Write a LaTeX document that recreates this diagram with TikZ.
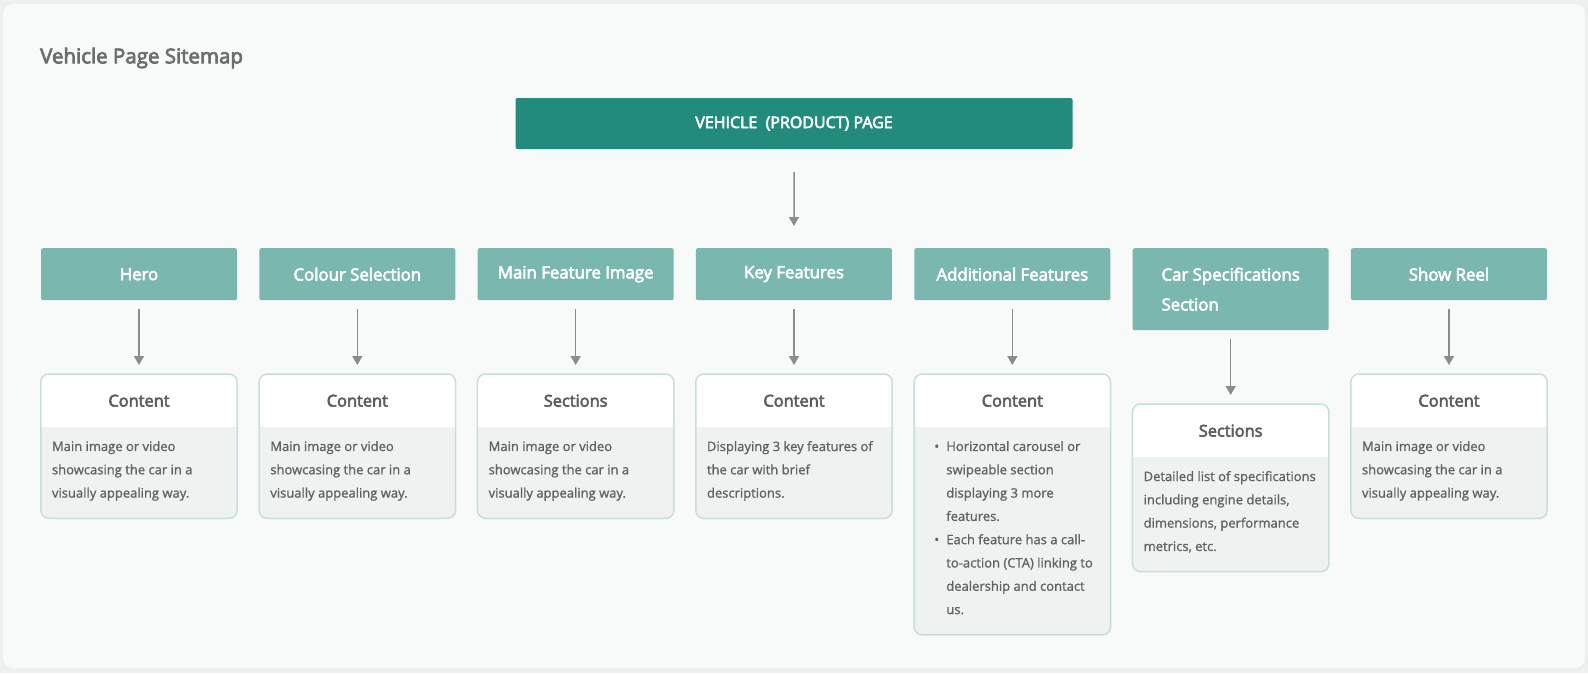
\documentclass[tikz,border=0pt]{standalone}
\usepackage{fontspec}
\setmainfont{Open Sans}[FakeBold=1.2]
\newfontfamily\semib{Open Sans}[FakeBold=3.5]
\usetikzlibrary{positioning,arrows.meta,backgrounds}

\definecolor{outergray}{HTML}{EEF0EF}
\definecolor{panelgray}{HTML}{F8F9F9}
\definecolor{titlegray}{HTML}{6B6F6E}
\definecolor{pageteal}{HTML}{228B7C}
\definecolor{sectionteal}{HTML}{7AB7AE}
\definecolor{cardgray}{HTML}{EEF2F1}
\definecolor{cardline}{HTML}{C8DEDB}
\definecolor{headgray}{HTML}{5A5E5D}
\definecolor{bodygray}{HTML}{5F6362}
\definecolor{arrowgray}{HTML}{8C8C8C}

\newcommand\itembul{\hspace*{9pt}\makebox[12pt][l]{\textbullet}}
\newcommand\itemind{\hspace*{21pt}}
\newcommand\mainimgtext{Main image or video\\showcasing the car in a\\visually appealing way.}
\newcommand\keyfeattext{Displaying 3 key features of\\the car with brief\\descriptions.}
\newcommand\addfeattext{\itembul Horizontal carousel or\\\itemind swipeable section\\\itemind displaying 3 more\\\itemind features.\\\itembul Each feature has a call-\\\itemind to-action (CTA) linking to\\\itemind dealership and contact\\\itemind us.}
\newcommand\spectext{Detailed list of specifications\\including engine details,\\dimensions, performance\\metrics, etc.}

\begin{document}
\begin{tikzpicture}[x=1pt, y=-1pt, >={Triangle[width=10pt,length=9pt]},
  page/.style={fill=pageteal, text=white, minimum width=557pt, minimum height=51pt,
    rounded corners=2pt, font=\semib\fontsize{16}{19}\selectfont},
  every section/.style={anchor=north, fill=sectionteal, text=white, minimum width=196pt,
    minimum height=52pt, rounded corners=2pt, align=center,
    font=\semib\fontsize{16.8}{30}\selectfont},
  section 6/.style={minimum height=82pt, align=left},
  card head/.style={anchor=north, minimum width=196pt, minimum height=53pt, inner sep=0pt,
    text=headgray, font=\semib\fontsize{16.4}{20}\selectfont},
  card text/.style={anchor=north west, align=left, inner xsep=11pt, inner ysep=13.5pt,
    text=bodygray, font=\fontsize{13}{23.3}\selectfont,
    execute at begin node={\rule{0pt}{17pt}}, execute at end node=\strut},
  link/.style={->, draw=arrowgray, line width=1.5pt, shorten <=9pt, shorten >=9pt}]
\useasboundingbox (0,0) rectangle (1588,673);

% Draw the panel
\begin{scope}[on background layer]
  \fill[outergray] (0,0) rectangle (1588,673);
  \fill[panelgray, rounded corners=10pt] (3,4) rectangle (1585,668);
\end{scope}

% Title
\node[anchor=west, inner sep=0pt, text=titlegray, font=\semib\fontsize{20.5}{24}\selectfont]
  (title) at (40,58) {Vehicle Page Sitemap};

% Draw page node
\node[page] (page) at (794,123.5) {VEHICLE\ \ (PRODUCT) PAGE};

% Draw section nodes
\foreach \l [count=\i] in {Hero, Colour Selection, Main Feature Image, Key Features,
    Additional Features, {Car Specifications\\Section}, Show Reel}
  \node [every section/.try, section \i/.try] (section-\i) at ({139+218.33*(\i-1)},248) {\l};

% Draw card headers
\foreach \h/\y [count=\i] in {Content/374, Content/374, Sections/374, Content/374,
    Content/374, Sections/404, Content/374}
  \node [card head] (head-\i) at ({139+218.33*(\i-1)},\y) {\h};

% Draw card texts
\foreach \txt [count=\i] in {\mainimgtext, \mainimgtext, \mainimgtext, \keyfeattext,
    \addfeattext, \spectext, \mainimgtext}
  \node [card text] (body-\i) at (head-\i.south west) {\txt};

% Shade and frame the cards
\begin{scope}[on background layer]
\foreach \i in {1,...,7} {
  \begin{scope}
    \clip[rounded corners=8pt] (head-\i.north west) rectangle (head-\i.east |- body-\i.south);
    \fill[cardgray] (head-\i.north west) rectangle (head-\i.east |- body-\i.south);
    \fill[white] (head-\i.north west) rectangle (head-\i.south east);
  \end{scope}
  \draw[cardline, line width=1.5pt, rounded corners=8pt]
    (head-\i.north west) rectangle (head-\i.east |- body-\i.south);
}
\end{scope}

% Connect page with sections
\draw [link, shorten <=23pt, shorten >=22pt] (page) -- (section-4);

% Connect sections with cards
\foreach \i in {1,...,7}
  \draw [link] (section-\i) -- (head-\i);
\end{tikzpicture}
\end{document}
